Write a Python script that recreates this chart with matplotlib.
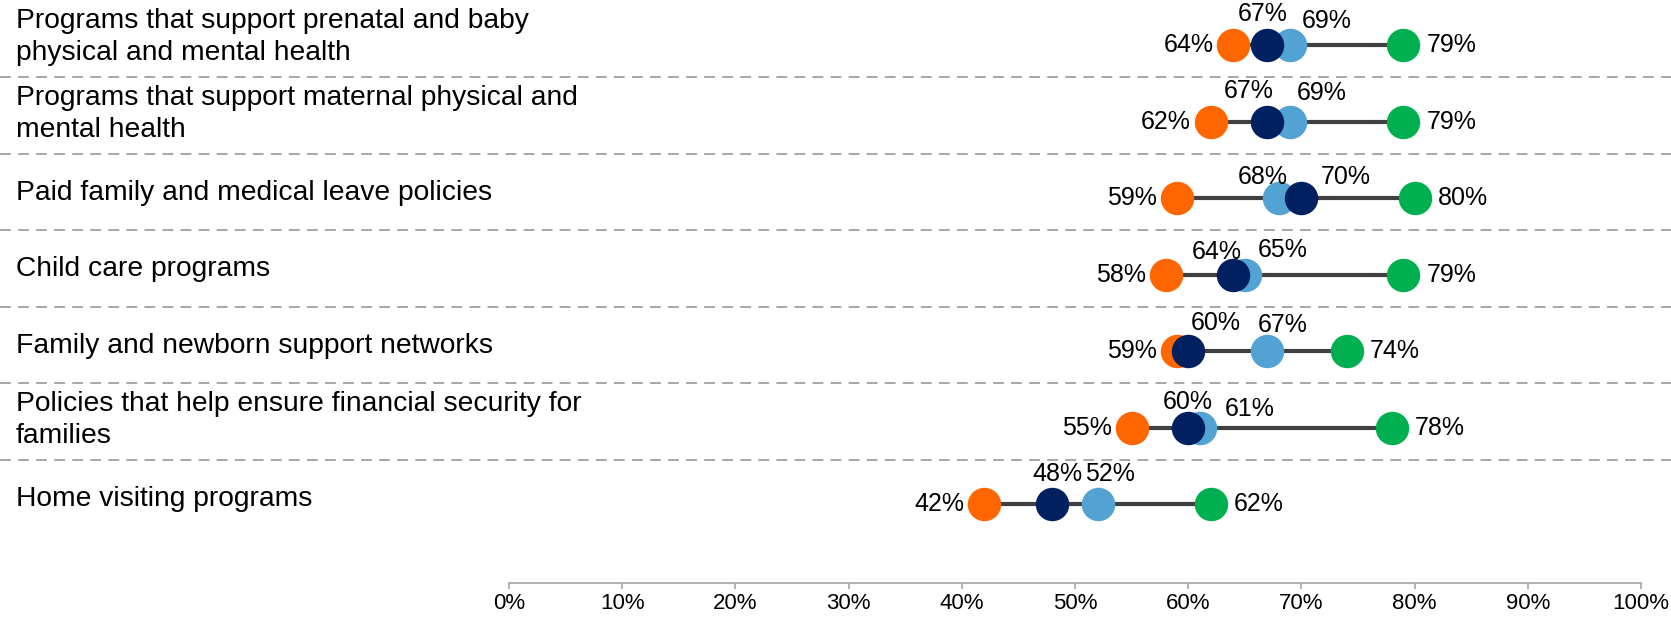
import matplotlib
matplotlib.use("Agg")
import matplotlib.pyplot as plt
import matplotlib.transforms as mtransforms

plt.rcParams['font.family'] = ['Liberation Sans', 'DejaVu Sans']

categories = [
    "Programs that support prenatal and baby\nphysical and mental health",
    "Programs that support maternal physical and\nmental health",
    "Paid family and medical leave policies",
    "Child care programs",
    "Family and newborn support networks",
    "Policies that help ensure financial security for\nfamilies",
    "Home visiting programs",
]
orange_vals = [64, 62, 59, 58, 59, 55, 42]
navy_vals = [67, 67, 70, 64, 60, 60, 48]
lblue_vals = [69, 69, 68, 65, 67, 61, 52]
green_vals = [79, 79, 80, 79, 74, 78, 62]

# label nudges (pixels) for the two middle series, placed above the dots
navy_nudge = [(-5, 31), (-19, 31), (44, 21), (-17, 23), (28, 28), (0, 26), (5, 30)]
lblue_nudge = [(37, 24), (32, 29), (-16, 21), (38, 25), (15, 26), (50, 19), (12, 30)]

ORANGE = '#FF6600'
NAVY = '#002060'
LBLUE = '#52A2D4'
GREEN = '#00B050'

W, H = 1671, 617
fig = plt.figure(figsize=(W / 100, H / 100), dpi=100)
ax = fig.add_axes([509 / W, (H - 583) / H, (1641 - 509) / W, 583 / H])
ax.set_xlim(0, 100)
ax.set_ylim(7.03, -0.59)

rows = list(range(len(categories)))
lo = [min(v) for v in zip(orange_vals, navy_vals, lblue_vals, green_vals)]
hi = [max(v) for v in zip(orange_vals, navy_vals, lblue_vals, green_vals)]
ax.hlines(rows, lo, hi, color='#404040', lw=3, zorder=1)

ms = 580
ax.scatter(orange_vals, rows, s=ms, color=ORANGE, lw=0, zorder=2)
ax.scatter(lblue_vals, rows, s=ms, color=LBLUE, lw=0, zorder=3)
ax.scatter(green_vals, rows, s=ms, color=GREEN, lw=0, zorder=3)
ax.scatter(navy_vals, rows, s=ms, color=NAVY, lw=0, zorder=4)

fs = 18
for i in rows:
    ax.annotate(f"{orange_vals[i]}%", (orange_vals[i], i), xytext=(-20, 0),
                textcoords='offset pixels', ha='right', va='center', fontsize=fs)
    ax.annotate(f"{green_vals[i]}%", (green_vals[i], i), xytext=(23, 0),
                textcoords='offset pixels', ha='left', va='center', fontsize=fs)
    ax.annotate(f"{navy_vals[i]}%", (navy_vals[i], i), xytext=navy_nudge[i],
                textcoords='offset pixels', ha='center', va='center', fontsize=fs)
    ax.annotate(f"{lblue_vals[i]}%", (lblue_vals[i], i), xytext=lblue_nudge[i],
                textcoords='offset pixels', ha='center', va='center', fontsize=fs)

# category labels and dashed separators across the whole figure
trans = mtransforms.blended_transform_factory(fig.transFigure, ax.transData)
for i, cat in enumerate(categories):
    dy = -0.1 if "\n" in cat else -0.07
    ax.text(16 / W, i + dy, cat, transform=trans, ha='left', va='center',
            fontsize=20.3, linespacing=1.3)
    if i < len(categories) - 1:
        ax.plot([0, 1], [i + 0.42, i + 0.42], transform=trans, color='#A0A0A0',
                lw=1.3, ls=(0, (6, 4)), clip_on=False, zorder=0)

ticks = list(range(0, 101, 10))
ax.set_xticks(ticks)
ax.set_xticklabels([f"{t}%" for t in ticks], fontsize=16)
ax.set_yticks([])
for s in ['top', 'right', 'left']:
    ax.spines[s].set_visible(False)
ax.spines['bottom'].set_color('#A6A6A6')
ax.spines['bottom'].set_linewidth(1.2)
ax.tick_params(axis='x', color='#A6A6A6', length=4, width=1.2, pad=3)

plt.savefig('out.png', dpi=100)
